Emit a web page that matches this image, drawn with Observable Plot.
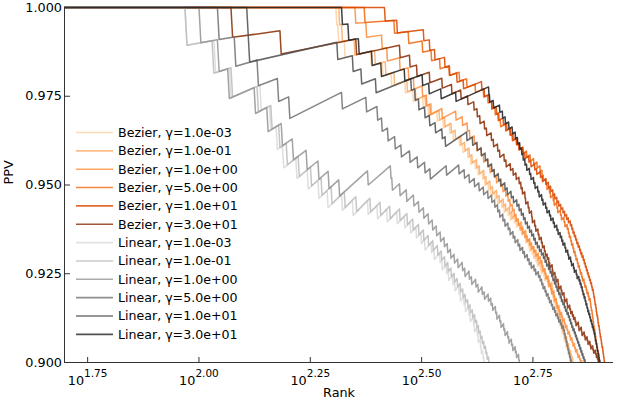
<!DOCTYPE html>
<html>
<head>
<meta charset="utf-8">
<script src="https://cdn.jsdelivr.net/npm/d3@7"></script>
<script src="https://cdn.jsdelivr.net/npm/@observablehq/plot@0.6"></script>
<style>
  html, body { margin: 0; padding: 0; background: white; }
  svg { display: block; }
</style>
</head>
<body>
<div id="chart"></div>
<script>
// ---- data: series labels, colours and false-positive ranks ----
const seriesNames = [
  "Bezier, γ=1.0e-03", "Bezier, γ=1.0e-01", "Bezier, γ=1.0e+00",
  "Bezier, γ=5.0e+00", "Bezier, γ=1.0e+01", "Bezier, γ=3.0e+01",
  "Linear, γ=1.0e-03", "Linear, γ=1.0e-01", "Linear, γ=1.0e+00",
  "Linear, γ=5.0e+00", "Linear, γ=1.0e+01", "Linear, γ=3.0e+01"
];
const seriesColors = [
  "#fdd0a2", "#fdae6b", "#fd8d3c", "#f16913", "#d94801", "#8c2d04",
  "#d9d9d9", "#bdbdbd", "#969696", "#737373", "#525252", "#252525"
];

const fpBez1em3 = [204,206,213,244,259,271,291,303,319,328,343,354,366,373,385,392,402,408,418,424,434,439,447,453,463,469,479,485,495,501,511,517,526,531,539,542,550,553,561,565,572,576,584,587,595,598,606,609,617,619,624,626,631,633,638,640,645,647,652,654,659,661,666,668,673,675,680,682,687];
const fpBez1em1 = [207,210,224,249,263,275,294,307,323,333,347,357,369,377,388,396,405,411,421,427,437,442,451,457,467,473,483,489,499,505,515,521,531,535,543,546,554,557,565,569,576,580,588,591,599,602,610,613,621,623,628,630,635,637,642,644,649,651,656,658,663,665,670,672,677,679,684,687,691,693];
const fpBez1e0 = [225,238,258,265,283,296,304,318,325,331,352,378,391,401,406,416,421,431,436,446,451,461,466,476,482,489,495,500,506,511,516,522,527,533,540,546,553,559,566,572,579,585,590,593,599,602,608,611,617,620,626,629,635,638,644,647,653,656,662,665,671,674,680,683,689,692,698,701,707,710,716,719,725,729];
const fpBez5e0 = [236,275,296,318,333,348,365,385,400,418,436,446,455,463,470,476,492,501,509,517,525,535,545,555,565,575,584,590,594,602,605,613,616,625,628,637,640,649,652,661,664,672,676,679,684,687,692,695,700,703,708,711,716,719,724,727,733,736,741,744,749,752,757,759,761,764,766,768,770,772,775,777,779,781,783,786,788,790,792,794];
const fpBez1e1 = [262,279,320,330,339,357,366,380,393,432,438,449,455,466,472,483,489,500,506,517,523,534,540,551,557,568,574,585,591,602,610,617,624,630,637,643,650,657,663,670,676,683,688,692,697,702,706,711,716,720,725,730,734,738,742,746,750,754,758,762,765,769,771,774,776,779,781,783,786,788,790,793,795,797,800,802,804,807,809,811,813,815];
const fpBez3e1 = [119,153,226,283,298,309,330,352,370,388,402,415,422,428,438,443,454,459,469,474,485,490,501,508,516,524,529,533,540,542,549,552,559,561,568,571,578,581,588,591,597,600,606,611,614,622,624,631,634,641,643,651,654,661,663,671,673,681,684,690,694,700,703,712,714,723,725,734,737,745,748,756,759,767,770,778,781,786,789];
const fpLin1em3 = [94,109,118,138,145,150,155,166,176,186,195,210,222,240,252,265,279,290,299,308,316,322,333,338,348,352,360,364,372,376,384,387,394,397,404,407,414,416,422,424,429,431,435,437,440];
const fpLin1em1 = [94,108,119,136,146,152,158,168,179,189,199,213,226,243,256,269,283,294,303,312,320,328,336,344,351,357,363,369,375,381,387,392,397,402,407,412,417,421,425,429,433,437,441,444,448,451,454];
const fpLin1e0 = [101,111,117,134,143,154,163,175,186,196,207,240,270,272,283,293,304,312,320,328,335,342,349,356,362,368,375,382,391,396,405,410,419,424,433,438,447,453,457,464,467,474,477,484,487,494,497,504,507,514,517,523,525,530];
const fpLin5e0 = [111,121,136,151,160,210,238,252,258,266,276,285,298,310,322,331,360,384,395,405,416,426,436,446,455,462,469,474,482,487,495,500,508,513,521,526,534,539,547,552,558,566,571,579,584,589,593,599,603,609,613,619,623,629,633,639,643,649,653,659,662,665,668,671,674,677,680,683,686,689];
const fpLin1e1 = [129,130,205,222,232,250,300,306,312,322,330,340,352,358,400,412,422,431,440,446,455,461,471,477,487,493,503,509,518,524,530,536,541,547,553,559,565,570,576,582,588,594,599,604,610,615,620,624,629,634,638,643,648,652,657,662,666,671,676,680,684,688,692,697,701,705,709,713,717,721,725,729,733,737,740];
const fpLin3e1 = [210,217,229,245,257,290,318,329,350,378,448,450,459,474,481,488,497,506,514,520,526,531,535,540,545,553,557,565,569,577,581,589,593,601,605,613,617,625,629,637,641,648,653,657,664,667,674,677,684,687,694,697,704,707,714,718,722,726,729,733,737,740,744,747,751,755,758,762,765,769,772,775,777,780,783,785,788,791,793,796,799];

const fpLists = [fpBez1em3, fpBez1em1, fpBez1e0, fpBez5e0, fpBez1e1, fpBez3e1,
                 fpLin1em3, fpLin1em1, fpLin1e0, fpLin5e0, fpLin1e1, fpLin3e1];

const xTickExponents = [1.75, 2.00, 2.25, 2.50, 2.75];
const yTicks = [0.900, 0.925, 0.950, 0.975, 1.000];

// ---- PPV at each rank = true positives / rank ----
const rows = [];
fpLists.forEach((fps, s) => {
  const name = seriesNames[s];
  rows.push({series: name, rank: 1, ppv: 1});
  fps.forEach((r, i) => {
    rows.push({series: name, rank: r - 1, ppv: (r - 1 - i) / (r - 1)});
    rows.push({series: name, rank: r, ppv: (r - 1 - i) / r});
  });
});

const xMin = 10 ** 1.698, xMax = 10 ** 2.931;
const font = "DejaVu Sans";
const axisColor = "#333";
const lineOpacity = 0.88;

const chart = Plot.plot({
  width: 621,
  height: 400,
  marginLeft: 64,
  marginRight: 8,
  marginTop: 6,
  marginBottom: 38,
  style: {fontFamily: font, fontSize: "12.8px", background: "white", color: "black"},
  x: {type: "log", domain: [xMin, xMax]},
  y: {domain: [0.9, 1.00028]},
  color: {domain: seriesNames, range: seriesColors},
  marks: [
    Plot.line(rows, {x: "rank", y: "ppv", z: "series", stroke: "series",
                     strokeWidth: 1.5, strokeOpacity: lineOpacity, clip: true, curve: "linear"}),
    Plot.ruleX([xMin], {y1: 0.9, y2: 1.0, stroke: axisColor}),
    Plot.ruleY([0.9], {stroke: axisColor}),
    Plot.axisY({ticks: yTicks, tickSize: 6, dx: 6, tickFormat: () => "", label: null, stroke: axisColor}),
    Plot.axisY({ticks: yTicks, tickSize: 0, tickPadding: 2.5, tickFormat: d3.format(".3f"),
                label: null, fontSize: 12.8}),
    Plot.axisX({ticks: xTickExponents.map(e => 10 ** e), tickSize: 5, dy: -5,
                tickFormat: () => "", label: null, stroke: axisColor}),
    Plot.axisX({ticks: xTickExponents.map(e => 10 ** e), tickSize: 0, tickPadding: 13,
                tickFormat: d => Math.log10(d).toFixed(2), label: null, fontSize: 12.8}),
    Plot.text(["Rank"], {text: d => d, frameAnchor: "bottom", dy: 30, lineAnchor: "middle",
                         fontSize: 12.8, fill: "black"}),
    Plot.text(["PPV"], {text: d => d, frameAnchor: "left", dx: -56, rotate: -90,
                        lineAnchor: "middle", fontSize: 12.8, fill: "black"})
  ]
});

document.getElementById("chart").appendChild(chart);

const svg = d3.select(chart.tagName.toLowerCase() === "svg" ? chart : chart.querySelector("svg"));

// x tick labels as 10 with superscript exponent
svg.selectAll('g[aria-label="x-axis tick label"] text').each(function() {
  const t = d3.select(this);
  const exp = t.text();
  if (!exp) return;
  t.text(null);
  t.append("tspan").text("10");
  t.append("tspan").attr("dy", "-8px").attr("font-size", "10.5px").text(exp);
});

// legend inside the plot
const lg = svg.append("g").attr("font-family", font).attr("font-size", "12.6px")
  .attr("text-anchor", "start");
seriesNames.forEach((name, i) => {
  const y = 132.5 + i * 18.35;
  lg.append("line").attr("x1", 76).attr("x2", 113).attr("y1", y).attr("y2", y)
    .attr("stroke", seriesColors[i]).attr("stroke-opacity", 0.8).attr("stroke-width", 1.6);
  lg.append("text").attr("x", 118).attr("y", y).attr("dy", "0.35em")
    .attr("text-anchor", "start").attr("fill", "black").text(name);
});
</script>
</body>
</html>
